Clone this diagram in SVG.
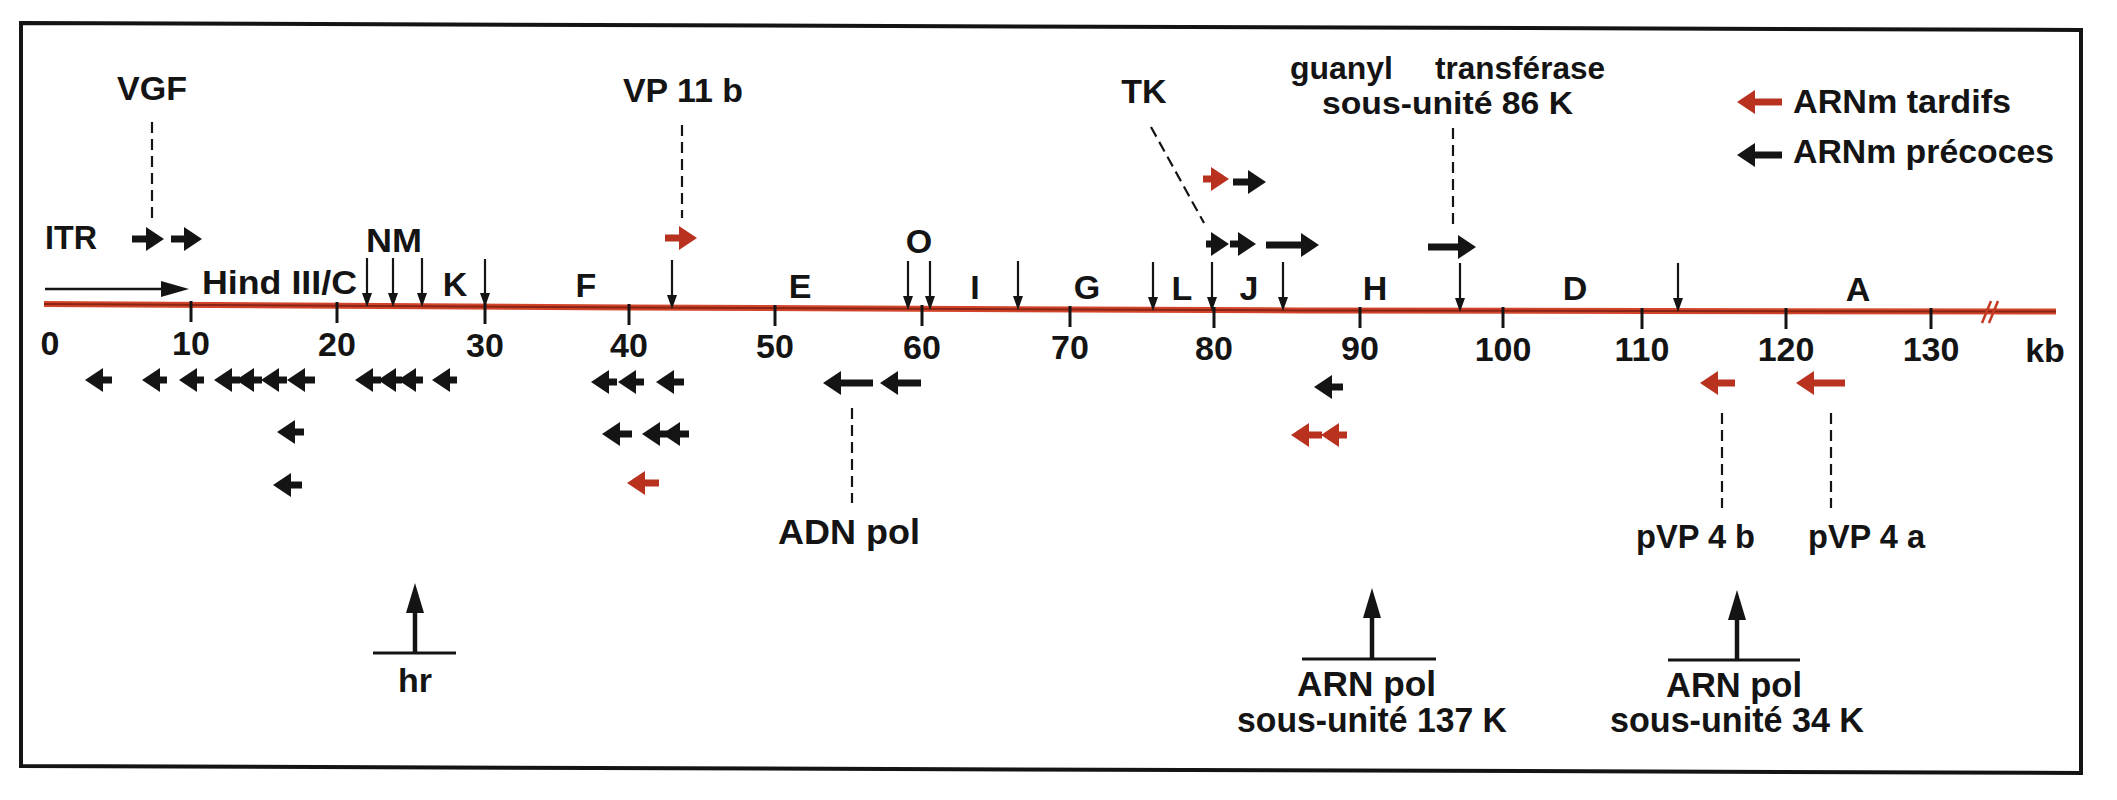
<svg xmlns="http://www.w3.org/2000/svg" width="2117" height="800" viewBox="0 0 2117 800">
<defs>
<style>
.t{font-family:"Liberation Sans",Arial,Helvetica,sans-serif;font-weight:bold;font-size:34px;fill:#141414}
.b{font-size:35px}
.s{font-size:31px}
.m{text-anchor:middle}
.mk{stroke:#141414;stroke-width:7;fill:none}
.mr{stroke:#b8321f;stroke-width:7;fill:none}
.site{stroke:#141414;stroke-width:2.2;fill:none}
.dash{stroke:#141414;stroke-width:2.2;stroke-dasharray:11 6;fill:none}
.tick{stroke:#141414;stroke-width:3}
.up{stroke:#141414;stroke-width:4.5}
.bar{stroke:#141414;stroke-width:3}
</style>
<marker id="hk" viewBox="0 0 18 24" refX="1" refY="12" markerWidth="18" markerHeight="24" markerUnits="userSpaceOnUse" orient="auto"><path d="M0,0 L18,12 L0,24 Z" fill="#141414"/></marker>
<marker id="hr" viewBox="0 0 18 24" refX="1" refY="12" markerWidth="18" markerHeight="24" markerUnits="userSpaceOnUse" orient="auto"><path d="M0,0 L18,12 L0,24 Z" fill="#b8321f"/></marker>
<marker id="hs" viewBox="0 0 14 10" refX="1" refY="5" markerWidth="14" markerHeight="10" markerUnits="userSpaceOnUse" orient="auto"><path d="M0,0 L14,5 L0,10 Z" fill="#141414"/></marker>
<marker id="hb" viewBox="0 0 30 18" refX="1" refY="9" markerWidth="30" markerHeight="18" markerUnits="userSpaceOnUse" orient="auto"><path d="M0,0 L30,9 L0,18 Z" fill="#141414"/></marker>
<marker id="ht" viewBox="0 0 28 16" refX="1" refY="8" markerWidth="28" markerHeight="16" markerUnits="userSpaceOnUse" orient="auto"><path d="M0,0 L28,8 L0,16 Z" fill="#141414"/></marker>
</defs>
<rect width="2117" height="800" fill="#ffffff"/>
<path id="frame" d="M21,23 L2081,30 L2081,773 L21,766 Z" fill="none" stroke="#141414" stroke-width="4"/>

<g id="genome-axis">
<polyline points="44,304 629,307.5 1300,310.5 2056,311.5" fill="none" stroke="#d2452a" stroke-width="6"/>
<polyline points="44,304 629,307.5 1300,310.5 2056,311.5" fill="none" stroke="#8a2414" stroke-width="2"/>
<line x1="1982" y1="323" x2="1991" y2="301" stroke="#c23a22" stroke-width="2.5"/>
<line x1="1989" y1="323" x2="1998" y2="301" stroke="#c23a22" stroke-width="2.5"/>
<g class="tick">
<line x1="191" y1="301" x2="191" y2="322"/>
<line x1="337" y1="302" x2="337" y2="323"/>
<line x1="485" y1="303" x2="485" y2="324"/>
<line x1="629" y1="304" x2="629" y2="325"/>
<line x1="775" y1="305" x2="775" y2="326"/>
<line x1="922" y1="305" x2="922" y2="326"/>
<line x1="1070" y1="306" x2="1070" y2="327"/>
<line x1="1214" y1="307" x2="1214" y2="328"/>
<line x1="1360" y1="307" x2="1360" y2="328"/>
<line x1="1503" y1="307" x2="1503" y2="328"/>
<line x1="1642" y1="308" x2="1642" y2="329"/>
<line x1="1786" y1="308" x2="1786" y2="329"/>
<line x1="1931" y1="308" x2="1931" y2="329"/>
</g>
<g class="t m">
<text x="50" y="355">0</text>
<text x="191" y="355">10</text>
<text x="337" y="356">20</text>
<text x="485" y="357">30</text>
<text x="629" y="357">40</text>
<text x="775" y="358">50</text>
<text x="922" y="359">60</text>
<text x="1070" y="359">70</text>
<text x="1214" y="360">80</text>
<text x="1360" y="360">90</text>
<text x="1503" y="361">100</text>
<text x="1642" y="361">110</text>
<text x="1786" y="361">120</text>
<text x="1931" y="361">130</text>
<text x="2045" y="362">kb</text>
</g>
</g>

<g id="itr">
<text class="t" x="45" y="249" textLength="52" lengthAdjust="spacingAndGlyphs">ITR</text>
<line x1="45" y1="289" x2="162" y2="289" stroke="#141414" stroke-width="2.5" marker-end="url(#ht)"/>
</g>

<g id="hindIII-fragments">
<text class="t" x="202" y="294" textLength="155" lengthAdjust="spacingAndGlyphs">Hind III/C</text>
<text class="t" x="366" y="252" textLength="56" lengthAdjust="spacingAndGlyphs">NM</text>
<text class="t m" x="455" y="296">K</text>
<text class="t m" x="586" y="297">F</text>
<text class="t m" x="800" y="298">E</text>
<text class="t m" x="919" y="253">O</text>
<text class="t m" x="975" y="299">I</text>
<text class="t m" x="1087" y="299">G</text>
<text class="t m" x="1182" y="300">L</text>
<text class="t m" x="1249" y="300">J</text>
<text class="t m" x="1375" y="300">H</text>
<text class="t m" x="1575" y="300">D</text>
<text class="t m" x="1858" y="301">A</text>
<g class="site" marker-end="url(#hs)">
<line x1="367" y1="258" x2="367" y2="294"/>
<line x1="393" y1="258" x2="393" y2="294"/>
<line x1="422" y1="258" x2="422" y2="294"/>
<line x1="485" y1="259" x2="485" y2="294"/>
<line x1="672" y1="260" x2="672" y2="296"/>
<line x1="908" y1="261" x2="908" y2="297"/>
<line x1="930" y1="261" x2="930" y2="297"/>
<line x1="1018" y1="261" x2="1018" y2="297"/>
<line x1="1153" y1="262" x2="1153" y2="298"/>
<line x1="1212" y1="262" x2="1212" y2="298"/>
<line x1="1283" y1="262" x2="1283" y2="298"/>
<line x1="1460" y1="263" x2="1460" y2="299"/>
<line x1="1678" y1="263" x2="1678" y2="299"/>
</g>
</g>

<g id="mrna-arrows">
<g class="mk" marker-end="url(#hk)">
<line x1="132" y1="239" x2="147" y2="239"/>
<line x1="171" y1="239" x2="185" y2="239"/>
<line x1="1233" y1="182" x2="1249" y2="182"/>
<line x1="1206" y1="244" x2="1212" y2="244"/>
<line x1="1230" y1="244" x2="1239" y2="244"/>
<line x1="1266" y1="245" x2="1302" y2="245"/>
<line x1="1428" y1="247" x2="1459" y2="247"/>
<line x1="112" y1="380" x2="102" y2="380"/>
<line x1="167" y1="380" x2="159" y2="380"/>
<line x1="204" y1="380" x2="196" y2="380"/>
<line x1="240" y1="380" x2="231" y2="380"/>
<line x1="262" y1="380" x2="253" y2="380"/>
<line x1="287" y1="380" x2="278" y2="380"/>
<line x1="315" y1="380" x2="304" y2="380"/>
<line x1="381" y1="380" x2="372" y2="380"/>
<line x1="402" y1="380" x2="395" y2="380"/>
<line x1="423" y1="380" x2="415" y2="380"/>
<line x1="457" y1="380" x2="449" y2="380"/>
<line x1="617" y1="382" x2="608" y2="382"/>
<line x1="644" y1="382" x2="635" y2="382"/>
<line x1="684" y1="382" x2="673" y2="382"/>
<line x1="873" y1="383" x2="840" y2="383"/>
<line x1="921" y1="383" x2="897" y2="383"/>
<line x1="1343" y1="387" x2="1331" y2="387"/>
<line x1="304" y1="432" x2="294" y2="432"/>
<line x1="632" y1="434" x2="619" y2="434"/>
<line x1="667" y1="434" x2="659" y2="434"/>
<line x1="689" y1="434" x2="679" y2="434"/>
<line x1="302" y1="485" x2="290" y2="485"/>
</g>
<g class="mr" marker-end="url(#hr)">
<line x1="665" y1="238" x2="680" y2="238"/>
<line x1="1203" y1="179" x2="1212" y2="179"/>
<line x1="1735" y1="383" x2="1717" y2="383"/>
<line x1="1845" y1="383" x2="1813" y2="383"/>
<line x1="1322" y1="435" x2="1308" y2="435"/>
<line x1="1347" y1="435" x2="1338" y2="435"/>
<line x1="659" y1="483" x2="644" y2="483"/>
</g>
</g>

<g id="legend">
<line class="mr" x1="1782" y1="102" x2="1754" y2="102" marker-end="url(#hr)"/>
<text class="t" x="1793" y="113" textLength="218" lengthAdjust="spacingAndGlyphs">ARNm tardifs</text>
<line class="mk" x1="1782" y1="155" x2="1754" y2="155" marker-end="url(#hk)"/>
<text class="t" x="1793" y="163" textLength="261" lengthAdjust="spacingAndGlyphs">ARNm précoces</text>
</g>

<g id="vgf"><text class="t m" x="152" y="100">VGF</text></g>
<g id="vp11b"><text class="t" x="623" y="102" textLength="120" lengthAdjust="spacingAndGlyphs">VP 11 b</text></g>
<g id="tk"><text class="t m" x="1144" y="103">TK</text></g>
<g id="guanyltransferase">
<text class="t s" x="1290" y="79" textLength="103" lengthAdjust="spacingAndGlyphs">guanyl</text>
<text class="t s" x="1435" y="79" textLength="170" lengthAdjust="spacingAndGlyphs">transférase</text>
<text class="t s" x="1322" y="114" textLength="251" lengthAdjust="spacingAndGlyphs">sous-unité 86 K</text>
</g>
<g id="adn-pol"><text class="t b" x="778" y="544" textLength="142" lengthAdjust="spacingAndGlyphs">ADN pol</text></g>
<g id="pvp4b"><text class="t" x="1636" y="548" textLength="119" lengthAdjust="spacingAndGlyphs">pVP 4 b</text></g>
<g id="pvp4a"><text class="t" x="1808" y="548" textLength="117" lengthAdjust="spacingAndGlyphs">pVP 4 a</text></g>
<g id="hr-region"><text class="t m" x="415" y="692">hr</text></g>
<g id="arn-pol-137">
<text class="t b" x="1297" y="696" textLength="139" lengthAdjust="spacingAndGlyphs">ARN pol</text>
<text class="t b" x="1237" y="732" textLength="270" lengthAdjust="spacingAndGlyphs">sous-unité 137 K</text>
</g>
<g id="arn-pol-34">
<text class="t b" x="1666" y="697" textLength="136" lengthAdjust="spacingAndGlyphs">ARN pol</text>
<text class="t b" x="1610" y="732" textLength="254" lengthAdjust="spacingAndGlyphs">sous-unité 34 K</text>
</g>

<g id="connectors">
<line class="dash" x1="152" y1="122" x2="152" y2="218"/>
<line class="dash" x1="682" y1="125" x2="682" y2="218"/>
<line class="dash" x1="1151" y1="127" x2="1204" y2="223"/>
<line class="dash" x1="1453" y1="128" x2="1453" y2="225"/>
<line class="dash" x1="852" y1="408" x2="852" y2="503"/>
<line class="dash" x1="1722" y1="413" x2="1722" y2="508"/>
<line class="dash" x1="1831" y1="413" x2="1831" y2="508"/>
<line class="bar" x1="373" y1="653" x2="456" y2="653"/>
<line class="up" x1="415" y1="653" x2="415" y2="612" marker-end="url(#hb)"/>
<line class="bar" x1="1302" y1="659" x2="1436" y2="659"/>
<line class="up" x1="1372" y1="659" x2="1372" y2="617" marker-end="url(#hb)"/>
<line class="bar" x1="1668" y1="660" x2="1800" y2="660"/>
<line class="up" x1="1737" y1="660" x2="1737" y2="619" marker-end="url(#hb)"/>
</g>
</svg>
